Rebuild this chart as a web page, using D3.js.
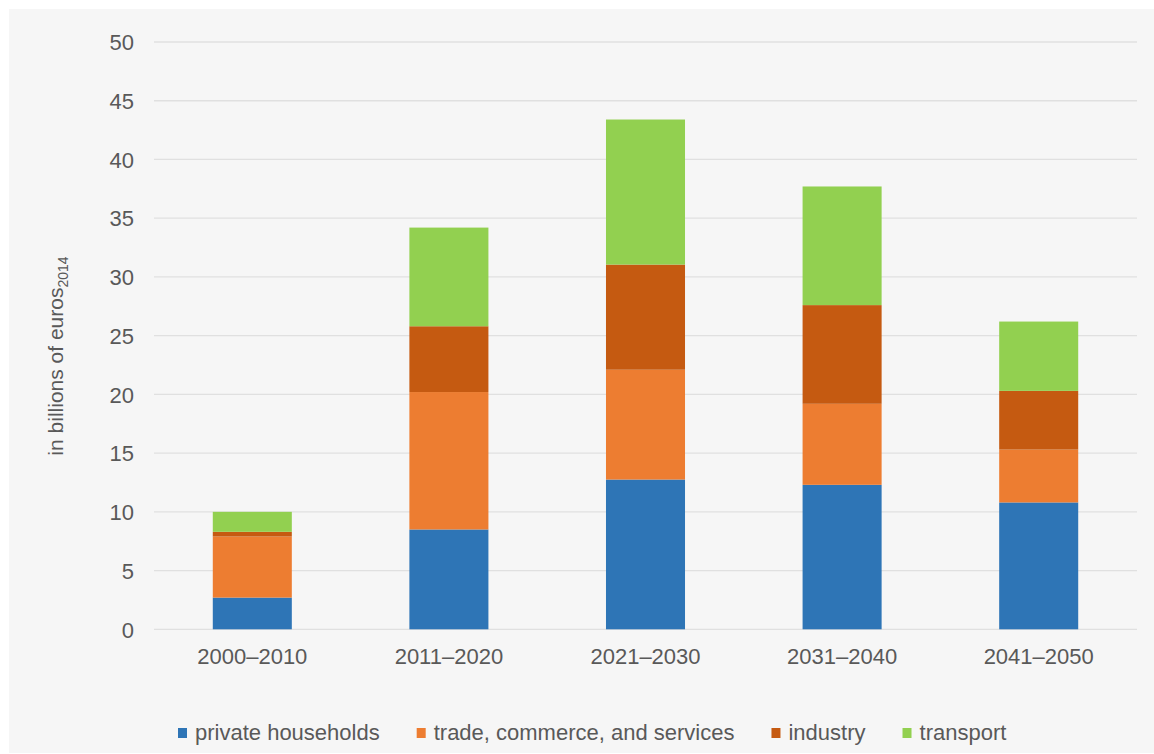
<!DOCTYPE html>
<html>
<head>
<meta charset="utf-8">
<script src="https://cdn.jsdelivr.net/npm/d3@7"></script>
<style>
  html, body { margin: 0; padding: 0; background: #ffffff; }
  svg { display: block; font-family: "Liberation Sans", Arial, sans-serif; }
</style>
</head>
<body>
<svg id="chart" width="1154" height="754"></svg>
<script>
const categories = ["2000–2010", "2011–2020", "2021–2030", "2031–2040", "2041–2050"];
const seriesNames = ["private households", "trade, commerce, and services", "industry", "transport"];
const privateHouseholds = [2.7, 8.5, 12.75, 12.3, 10.8];
const tradeCommerceServices = [5.2, 11.7, 9.35, 6.9, 4.5];
const industry = [0.4, 5.6, 8.95, 8.4, 5.0];
const transport = [1.7, 8.4, 12.35, 10.1, 5.9];
const yTicks = [0, 5, 10, 15, 20, 25, 30, 35, 40, 45, 50];
const colors = ["#2e75b6", "#ed7d31", "#c55a11", "#92d050"];

const seriesValues = [privateHouseholds, tradeCommerceServices, industry, transport];
const rows = categories.map((c, i) => {
  const r = { category: c };
  seriesNames.forEach((s, j) => r[s] = seriesValues[j][i]);
  return r;
});

const svg = d3.select("#chart");
const textColor = "#595959";

svg.append("rect").attr("x", 9).attr("y", 9).attr("width", 1145).attr("height", 744).attr("fill", "#f6f6f6");

const x = d3.scaleBand().domain(categories).range([154, 1137]).paddingInner(0.598).paddingOuter(0.299);
const y = d3.scaleLinear().domain([0, 50]).range([629.3, 42]);

// gridlines
svg.append("g")
  .selectAll("line").data(yTicks).join("line")
  .attr("x1", 154).attr("x2", 1137)
  .attr("y1", d => y(d)).attr("y2", d => y(d))
  .attr("stroke", "#e0e0e0").attr("stroke-width", 1.3);

// y axis labels
const yAxis = d3.axisLeft(y).tickValues(yTicks).tickSize(0).tickPadding(0);
const gy = svg.append("g").attr("transform", "translate(134,0)").call(yAxis);
gy.select(".domain").remove();
gy.selectAll("text").attr("fill", textColor).style("font-size", "22px")
  .style("font-family", "'Liberation Sans', Arial, sans-serif").attr("dy", "0.35em");

// bars
const stack = d3.stack().keys(seriesNames);
const stacked = stack(rows);
svg.append("g").selectAll("g").data(stacked).join("g")
  .attr("fill", (d, i) => colors[i])
  .selectAll("rect").data(d => d).join("rect")
  .attr("x", d => x(d.data.category))
  .attr("width", x.bandwidth())
  .attr("y", d => y(d[1]))
  .attr("height", d => y(d[0]) - y(d[1]));

// x axis labels
const xAxis = d3.axisBottom(x).tickSize(0).tickPadding(0);
const gx = svg.append("g").attr("transform", "translate(0,664)").call(xAxis);
gx.select(".domain").remove();
gx.selectAll("text").attr("fill", textColor).attr("dy", 0).attr("y", 0)
  .style("font-size", "22px").style("font-family", "'Liberation Sans', Arial, sans-serif");

// y axis title
const yt = svg.append("text")
  .attr("transform", "translate(63,356) rotate(-90)")
  .attr("text-anchor", "middle")
  .attr("fill", textColor)
  .style("font-size", "21px");
yt.append("tspan").text("in billions of euros");
yt.append("tspan").text("2014").attr("font-size", "14px").attr("dy", "5");

// legend
const legend = svg.append("g");
let lx = 0;
seriesNames.forEach((s, i) => {
  const g = legend.append("g").attr("transform", `translate(${lx},0)`);
  g.append("rect").attr("x", 0).attr("y", 728).attr("width", 9).attr("height", 10).attr("fill", colors[i]);
  const t = g.append("text").attr("x", 17).attr("y", 739.5).attr("fill", textColor)
    .style("font-size", "22px").text(s);
  const w = t.node().getComputedTextLength();
  lx += 17 + w + 37;
});
legend.attr("transform", `translate(${178},0)`);
</script>
</body>
</html>
